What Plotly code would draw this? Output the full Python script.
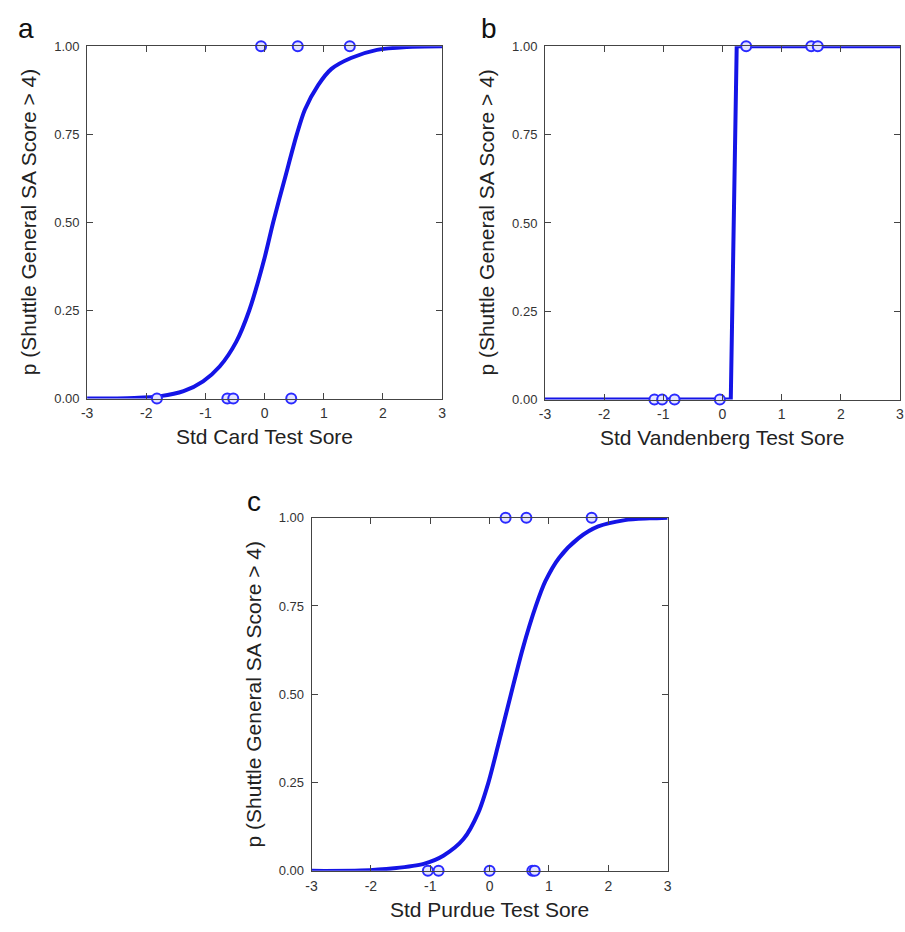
import plotly.graph_objects as go

# ---- data ----
# Panel a: Std Card Test Score
a_curve_x = [-3.0, -2.2, -1.76, -1.37, -1.04, -0.76, -0.48, -0.26, 0.0, 0.144, 0.35, 0.544, 0.68, 0.905, 1.13, 1.46, 1.9, 2.4, 3.0]
a_curve_p = [0.0, 0.002, 0.007, 0.021, 0.049, 0.091, 0.161, 0.25, 0.40, 0.50, 0.63, 0.75, 0.82, 0.89, 0.936, 0.967, 0.99, 0.998, 1.0]
a_obs_x = [-0.06, 0.56, 1.44, -1.82, -0.63, -0.53, 0.45]
a_obs_p = [1, 1, 1, 0, 0, 0, 0]

# Panel b: Std Vandenberg Test Score
b_curve_x = [-3.0, 0.14, 0.24, 3.0]
b_curve_p = [0.0, 0.0, 1.0, 1.0]
b_obs_x = [0.40, 1.50, 1.61, -1.15, -1.02, -0.81, -0.045]
b_obs_p = [1, 1, 1, 0, 0, 0, 0]

# Panel c: Std Purdue Test Score
c_curve_x = [-3.0, -2.17, -1.61, -1.11, -0.78, -0.44, -0.19, -0.02, 0.15, 0.36, 0.56, 0.78, 0.94, 1.17, 1.5, 1.83, 2.28, 2.7, 3.0]
c_curve_p = [0.0, 0.001, 0.0075, 0.02, 0.043, 0.09, 0.165, 0.25, 0.36, 0.50, 0.63, 0.75, 0.82, 0.886, 0.942, 0.975, 0.993, 0.998, 1.0]
c_obs_x = [0.27, 0.62, 1.72, -1.04, -0.86, 0.0, 0.72, 0.76]
c_obs_p = [1, 1, 1, 0, 0, 0, 0, 0]

x_ticks = [-3, -2, -1, 0, 1, 2, 3]
y_ticks = [0.0, 0.25, 0.5, 0.75, 1.0]
y_title = "p (Shuttle General SA Score > 4)"
x_titles = ["Std Card Test Sore", "Std Vandenberg Test Sore", "Std Purdue Test Sore"]
panel_letters = ["a", "b", "c"]

W, H = 905, 932
LINE = "#1414e6"
MK_LINE = "#2a2aff"
MK_FILL = "#e4e4ff"
AX = "#444444"

# plot-area pixel boxes (left, right, top, bottom)
boxes = [(82, 441, 40, 398), (545, 904, 40, 399), (309, 669, 519, 878)]
letter_pos = [(20, 22), (488, 22), (251, 503)]

fig = go.Figure()
panels = [(a_curve_x, a_curve_p, a_obs_x, a_obs_p),
          (b_curve_x, b_curve_p, b_obs_x, b_obs_p),
          (c_curve_x, c_curve_p, c_obs_x, c_obs_p)]

for i, (cx, cp, ox, op) in enumerate(panels):
    xa = "x" if i == 0 else f"x{i+1}"
    ya = "y" if i == 0 else f"y{i+1}"
    fig.add_trace(go.Scatter(x=cx, y=cp, mode="lines", xaxis=xa, yaxis=ya,
                             line=dict(color=LINE, width=4,
                                       shape="spline" if i != 1 else "linear", smoothing=0.8),
                             cliponaxis=False, showlegend=False, hoverinfo="skip"))
    fig.add_trace(go.Scatter(x=ox, y=op, mode="markers", xaxis=xa, yaxis=ya,
                             marker=dict(symbol="circle", size=10, color=MK_FILL,
                                         line=dict(color=MK_LINE, width=2)),
                             cliponaxis=False, showlegend=False))

layout = dict(width=W, height=H, margin=dict(l=0, r=0, t=0, b=0),
              paper_bgcolor="white", plot_bgcolor="white",
              font=dict(family="Liberation Sans, Arial, sans-serif", color="#333333"))

annotations = []
for i, (l, r, t, b) in enumerate(boxes):
    xk = "xaxis" if i == 0 else f"xaxis{i+1}"
    yk = "yaxis" if i == 0 else f"yaxis{i+1}"
    ya = "y" if i == 0 else f"y{i+1}"
    xa = "x" if i == 0 else f"x{i+1}"
    layout[xk] = dict(domain=[l / W, min(r / W, 1.0)], anchor=ya, range=[-3, 3],
                      tickvals=x_ticks, ticktext=[str(v) for v in x_ticks],
                      ticks="inside", ticklen=6, tickcolor=AX, tickwidth=1,
                      showline=True, linecolor=AX, linewidth=1, mirror="ticks",
                      showgrid=False, zeroline=False, ticklabelstandoff=2,
                      tickfont=dict(size=14, color="#333333"))
    layout[yk] = dict(domain=[1 - b / H, 1 - t / H], anchor=xa, range=[0, 1],
                      tickvals=y_ticks, tickformat=".2f",
                      ticks="inside", ticklen=6, tickcolor=AX, tickwidth=1,
                      showline=True, linecolor=AX, linewidth=1, mirror="ticks",
                      showgrid=False, zeroline=False, ticklabelstandoff=4,
                      tickfont=dict(size=13, color="#333333"))
    # x-axis title
    annotations.append(dict(text=x_titles[i], xref="paper", yref="paper",
                            x=(l + r) / 2 / W, y=1 - (b + 39) / H,
                            xanchor="center", yanchor="middle", showarrow=False,
                            font=dict(size=21, color="#222222")))
    # y-axis title
    annotations.append(dict(text=y_title, xref="paper", yref="paper",
                            x=(l - 59) / W, y=1 - (t + b) / 2 / H, textangle=-90,
                            xanchor="center", yanchor="middle", showarrow=False,
                            font=dict(size=21, color="#222222")))
    # panel letter
    lx, ly = letter_pos[i]
    annotations.append(dict(text=panel_letters[i], xref="paper", yref="paper",
                            x=lx / W, y=1 - ly / H,
                            xanchor="center", yanchor="middle", showarrow=False,
                            font=dict(size=28, color="#111111")))

layout["annotations"] = annotations
fig.update_layout(**layout)
fig.write_html("out.html", config={"displayModeBar": False},
               post_script="document.body.style.margin='0';document.body.style.overflow='hidden';")
